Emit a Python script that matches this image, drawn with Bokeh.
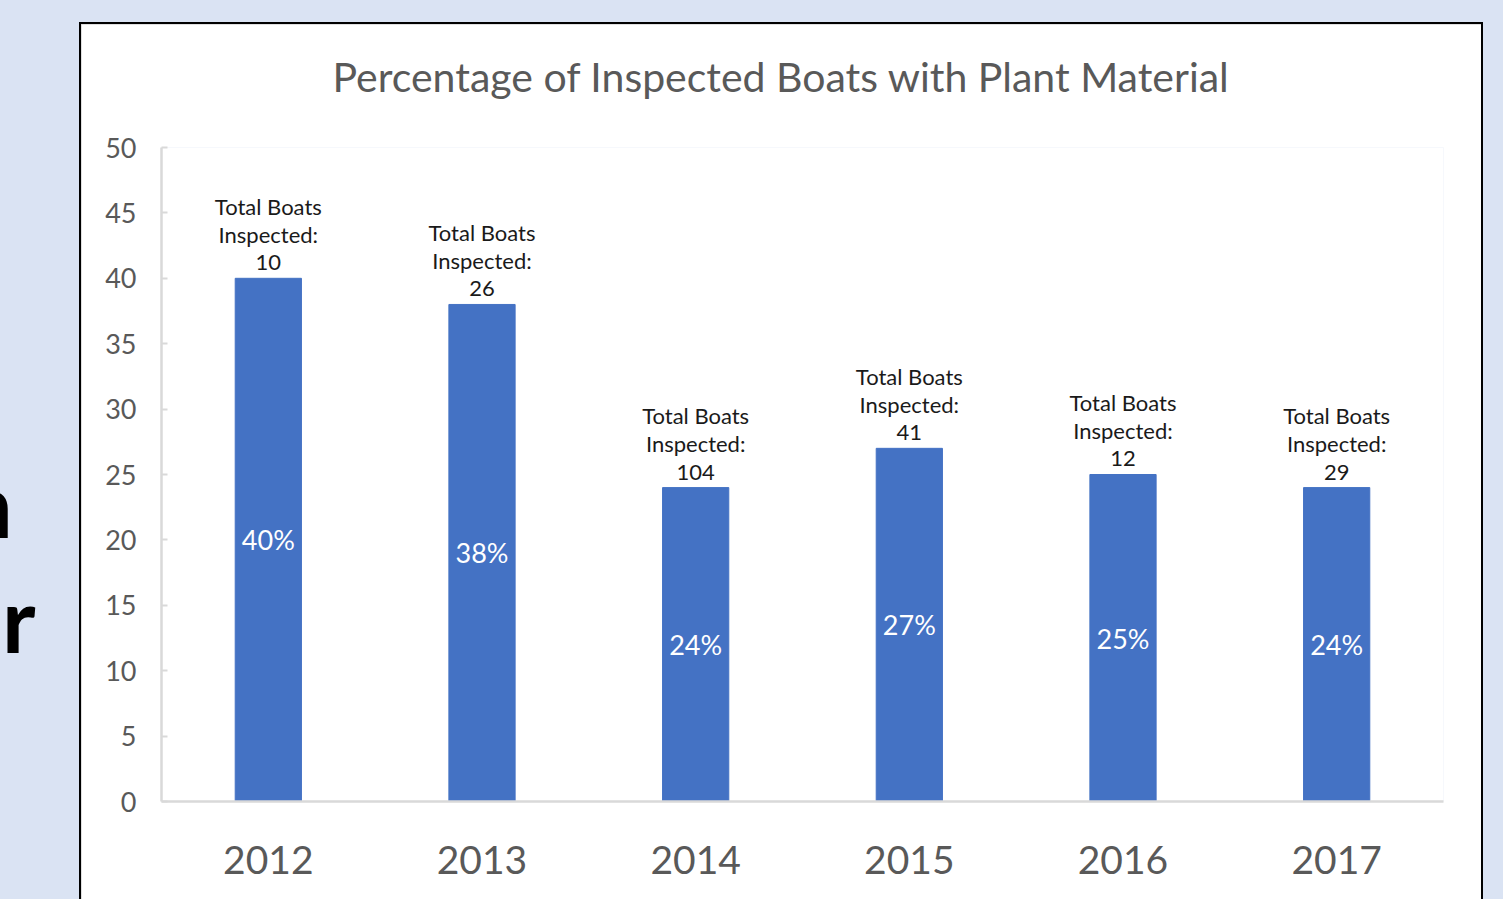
from bokeh.plotting import figure
from bokeh.models import FactorRange, Range1d, FixedTicker, Div
from bokeh.layouts import row
from bokeh.core.properties import value
from bokeh.embed import file_html
from bokeh.resources import INLINE

# ---- data ----
years = ["2012", "2013", "2014", "2015", "2016", "2017"]
pct_values = [40, 38, 24, 27, 25, 24]
boats_inspected = [10, 26, 104, 41, 12, 29]
y_ticks = [0, 5, 10, 15, 20, 25, 30, 35, 40, 45, 50]
title_text = "Percentage of Inspected  Boats with Plant Material"

FONT = "Lato"
BLUE_BG = "#DAE3F3"
BAR = "#4472C4"
GRAY_TXT = "#595959"
AXIS = "#D9D9D9"

p = figure(
    x_range=FactorRange(*years), y_range=Range1d(0, 50),
    frame_width=1282, frame_height=654,
    min_border_left=80, min_border_right=38, min_border_top=123, min_border_bottom=98,
    output_backend="svg", toolbar_location=None,
    background_fill_color="white", border_fill_color="white",
    margin=(24, 0, 0, 0),
    styles={"box-shadow": "0 0 0 2px #000000",
            "outline": "2px solid #D4D4D4", "outline-offset": "-2px"},
)
p.outline_line_color = None
p.xgrid.grid_line_color = None
p.ygrid.grid_line_color = None

# title (an empty second line keeps it higher above the plot area)
p.title.text = title_text + "\n"
p.title.align = "left"
p.title.offset = 171
p.title.text_font = FONT
p.title.text_font_size = "41px"
p.title.text_font_style = "normal"
p.title.text_color = GRAY_TXT
p.title.text_line_height = 0.84
p.title.standoff = 10

# bars
p.vbar(x=years, top=pct_values, width=0.31, color=BAR)

# percentage labels inside bars
p.text(x=years, y=[v / 2 for v in pct_values], text=[f"{v}%" for v in pct_values],
       text_align="center", text_baseline="middle", text_color="white",
       text_font=value(FONT), text_font_size="27px")

# labels above bars
p.text(x=years, y=pct_values,
       text=[f"Total Boats\nInspected:\n{n}" for n in boats_inspected],
       text_align="center", text_baseline="bottom", y_offset=-3,
       text_color="#1a1a1a", text_font=value(FONT), text_font_size="22px",
       text_line_height=1.025)

# axes
p.yaxis.ticker = FixedTicker(ticks=y_ticks)
p.yaxis.major_tick_in = 6
p.yaxis.major_tick_out = 0
p.yaxis.minor_tick_line_color = None
p.yaxis.axis_line_color = AXIS
p.yaxis.axis_line_width = 2.5
p.yaxis.major_tick_line_color = AXIS
p.yaxis.major_tick_line_width = 2
p.yaxis.major_label_text_font = FONT
p.yaxis.major_label_text_font_size = "27px"
p.yaxis.major_label_text_color = GRAY_TXT
p.yaxis.major_label_standoff = 25

p.xaxis.major_tick_line_color = None
p.xaxis.major_tick_in = 0
p.xaxis.major_tick_out = 0
p.xaxis.axis_line_color = AXIS
p.xaxis.axis_line_width = 2.5
p.xaxis.major_label_text_font = FONT
p.xaxis.major_label_text_font_size = "39px"
p.xaxis.major_label_text_color = GRAY_TXT
p.xaxis.major_label_standoff = 44

# fragments of slide text visible at the left edge of the slide
frag_style = f"position:absolute;font-family:{FONT};font-weight:bold;font-size:90px;line-height:90px;color:#000;"
left_strip = Div(
    width=81, height=899, margin=0,
    text=(f'<div style="position:relative;width:81px;height:899px;overflow:hidden;">'
          f'<span style="{frag_style}left:-38px;top:458px;">n</span>'
          f'<span style="{frag_style}left:2px;top:573px;">r</span>'
          f'</div>'),
)

layout = row(left_strip, p, styles={"background-color": BLUE_BG})

html = file_html(layout, INLINE)
html = html.replace(
    "</head>",
    f"<style>html,body{{margin:0;padding:0;background:{BLUE_BG};overflow:hidden;}}</style></head>",
    1)
open("out.html", "w").write(html)
